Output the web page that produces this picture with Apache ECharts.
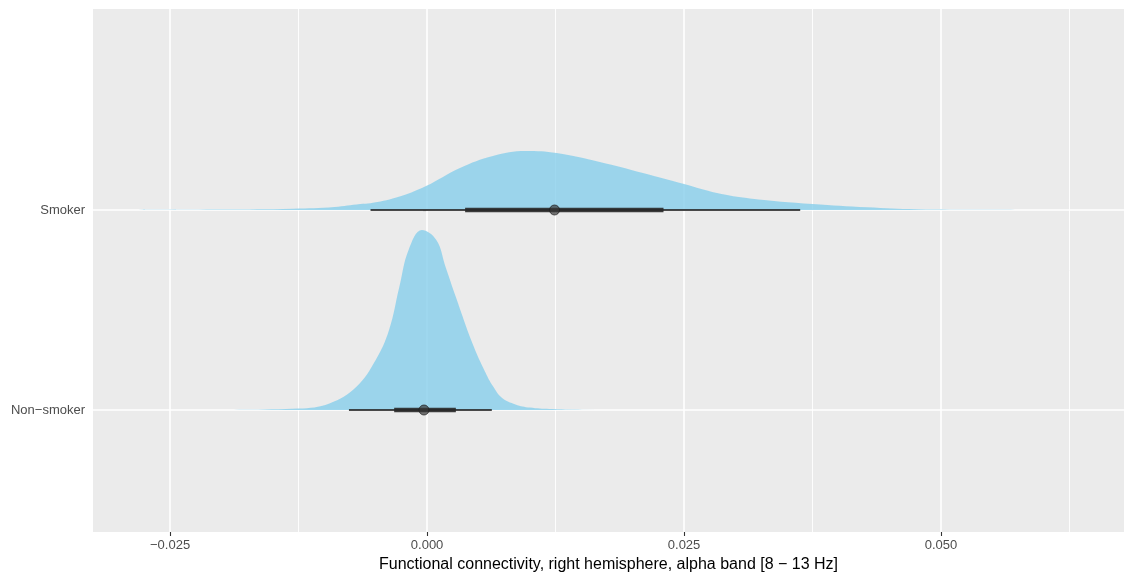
<!DOCTYPE html>
<html>
<head>
<meta charset="utf-8">
<script src="https://cdn.jsdelivr.net/npm/echarts@6/dist/echarts.min.js"></script>
<style>
  html, body { margin: 0; padding: 0; background: #fff; }
  #chart { width: 1124px; height: 573px; }
</style>
</head>
<body>
<div id="chart"></div>
<script>
// categories (y positions 1 and 2)
var categories = ['Non\u2212smoker', 'Smoker'];
var majorTicks = [-0.025, 0, 0.025, 0.05];
var minorTicks = [-0.0125, 0.0125, 0.0375, 0.0625];

// density curves, height in units of the category spacing
var smokerX = [-0.0290, -0.0200, -0.0130, -0.0090, -0.0065, -0.0055, -0.0030, -0.0001, 0.0032, 0.0064, 0.0096,
  0.0126, 0.0168, 0.0210, 0.0250, 0.0282, 0.0314, 0.0375, 0.0428, 0.0476, 0.0540, 0.0596];
var smokerDensity = [0, 0.002, 0.0065, 0.015, 0.03, 0.0335, 0.062, 0.12, 0.21, 0.27, 0.295,
  0.285, 0.24, 0.185, 0.13, 0.085, 0.058, 0.03, 0.0135, 0.0035, 0.001, 0];

var nonSmokerX = [-0.0205, -0.0125, -0.0095, -0.0069, -0.0050, -0.0037, -0.0027, -0.0018, -0.0005, 0.0009,
  0.0018, 0.0028, 0.0044, 0.0057, 0.0064, 0.0073, 0.0086, 0.0100, 0.0119, 0.0168];
var nonSmokerDensity = [0, 0.0075, 0.033, 0.115, 0.25, 0.4, 0.615, 0.8, 0.9, 0.85,
  0.715, 0.565, 0.335, 0.185, 0.12, 0.06, 0.028, 0.012, 0.005, 0.001];

// point + intervals: [point, thickLo, thickHi, thinLo, thinHi]
var smokerInterval = [0.0124, 0.0037, 0.0230, -0.0055, 0.0363];
var nonSmokerInterval = [-0.0003, -0.0032, 0.0028, -0.0076, 0.0063];

function fmt(v) {
  return v.toFixed(3).replace('-', '\u2212');
}

function densitySeries(xs, ds, base) {
  return {
    type: 'line',
    data: xs.map(function (x, i) { return [x, base + ds[i]]; }),
    smooth: 0.4,
    symbol: 'none',
    lineStyle: { width: 0 },
    areaStyle: { color: 'rgba(135,206,235,0.8)', origin: base, opacity: 1 },
    silent: true,
    z: 3
  };
}

function intervalSeries(iv, base) {
  return [{
    type: 'line',
    data: [[iv[3], base], [iv[4], base]],
    symbol: 'none',
    lineStyle: { color: 'rgba(40,40,40,0.85)', width: 2 },
    silent: true,
    z: 4
  }, {
    type: 'line',
    data: [[iv[1], base], [iv[2], base]],
    symbol: 'none',
    lineStyle: { color: 'rgba(40,40,40,0.9)', width: 4.5 },
    silent: true,
    z: 5
  }, {
    type: 'scatter',
    data: [[iv[0], base]],
    symbol: 'circle',
    symbolSize: 10,
    itemStyle: { color: 'rgba(55,55,55,0.85)', borderColor: 'rgba(30,30,30,0.9)', borderWidth: 1 },
    silent: true,
    z: 6
  }];
}

var gridSeries = {
  type: 'line',
  data: [],
  silent: true,
  z: 1,
  markLine: {
    silent: true,
    z: 1,
    precision: 6,
    symbol: 'none',
    label: { show: false },
    animation: false,
    data: majorTicks.map(function (v) {
      return { xAxis: v, lineStyle: { color: '#ffffff', width: 1.6, type: 'solid' } };
    }).concat(minorTicks.map(function (v) {
      return { xAxis: v, lineStyle: { color: '#ffffff', width: 0.9, type: 'solid' } };
    })).concat([1, 2].map(function (v) {
      return { yAxis: v, lineStyle: { color: '#ffffff', width: 1.6, type: 'solid' } };
    }))
  }
};

var series = [gridSeries,
  densitySeries(smokerX, smokerDensity, 2),
  densitySeries(nonSmokerX, nonSmokerDensity, 1)]
  .concat(intervalSeries(smokerInterval, 2))
  .concat(intervalSeries(nonSmokerInterval, 1));

var option = {
  animation: false,
  backgroundColor: '#ffffff',
  textStyle: { fontFamily: 'Liberation Sans, Arial, sans-serif' },
  grid: {
    left: 93, right: 0, top: 9, bottom: 41,
    outerBoundsMode: 'none',
    containLabel: false,
    show: true, backgroundColor: '#EBEBEB', borderWidth: 0
  },
  xAxis: {
    type: 'value',
    min: -0.0325,
    max: 0.0678,
    splitLine: { show: false },
    axisLine: { show: false },
    axisTick: { show: true, customValues: majorTicks, length: 4, lineStyle: { color: '#333333', width: 1.1 } },
    axisLabel: {
      customValues: majorTicks, formatter: fmt, color: '#4D4D4D', fontSize: 13, margin: 7
    },
    name: 'Functional connectivity, right hemisphere, alpha band [8 \u2212 13 Hz]',
    nameLocation: 'middle',
    nameGap: 23,
    nameTextStyle: { color: '#000000', fontSize: 16 }
  },
  yAxis: {
    type: 'value',
    min: 0.39,
    max: 3.005,
    splitLine: { show: false },
    axisLine: { show: false },
    axisTick: { show: true, customValues: [1, 2], length: 4, lineStyle: { color: '#333333', width: 1.1 } },
    axisLabel: {
      customValues: [1, 2],
      formatter: function (v) { return categories[Math.round(v) - 1]; },
      color: '#4D4D4D', fontSize: 13, margin: 8
    }
  },
  series: series
};

var chart = echarts.init(document.getElementById('chart'));
chart.setOption(option);
</script>
</body>
</html>
